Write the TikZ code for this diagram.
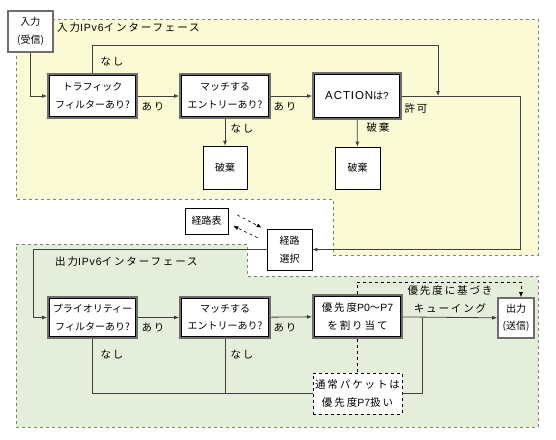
\documentclass[tikz,border=0pt]{standalone}
\usepackage{fontspec}
\setmainfont{Noto Sans CJK JP}
\newfontfamily\lat{Liberation Sans}
\newfontfamily\widejp[LetterSpace=18]{Noto Sans CJK JP}
\newfontfamily\widelat[LetterSpace=8]{Liberation Sans}
\usetikzlibrary{arrows.meta}
\definecolor{yel}{RGB}{250,250,212}
\definecolor{grn}{RGB}{229,238,218}
\definecolor{frame}{RGB}{110,110,110}
\tikzset{
  box/.style={draw=black, line width=0.7pt, fill=white, align=center, inner sep=0pt, font=\fontsize{10}{17.5}\selectfont},
  widebox/.style={font=\widejp\fontsize{10.5}{17.5}\selectfont},
  graybox/.style={box, draw=frame, line width=1.6pt},
  dblbox/.style={box, draw=frame, line width=1.8pt},
  dashbox/.style={box, dashed, line width=0.6pt},
  region/.style={draw=gray, dashed, line width=0.6pt},
  conn/.style={draw=black!75, line width=0.8pt},
  arr/.style={conn, -{Latex[length=5pt,width=4pt]}},
  dasharr/.style={dashed, line width=0.6pt, -{Latex[length=5pt,width=4pt]}},
  lbl/.style={font=\widejp\fontsize{10.5}{17.5}\selectfont, inner sep=0pt},
}
\begin{document}
\begin{tikzpicture}[x=1pt,y=-1pt]
\useasboundingbox (0,0) rectangle (556,439);
% regions
\fill[yel] (16,19) -- (538,19) -- (538,255) -- (333,255) -- (333,199) -- (16,199) -- cycle;
\draw[region] (16,19) -- (538,19) -- (538,255) -- (333,255) -- (333,199) -- (16,199) -- cycle;
\fill[grn] (16,244) -- (247,244) -- (247,276) -- (538,276) -- (538,427) -- (16,427) -- cycle;
\draw[region] (16,244) -- (247,244) -- (247,276) -- (538,276) -- (538,427) -- (16,427) -- cycle;
\node[lbl, anchor=west] (t1) at (57,28) {入力{\widelat IPv6}インターフェース};
\node[lbl, anchor=west] (t2) at (55,262) {出力{\widelat IPv6}インターフェース};

% nodes
\node[graybox, minimum width=45, minimum height=41] (in) at (30.5,31.5) {入力\\(受信)};
\node[dblbox, minimum width=89, minimum height=44] (tf) at (92.5,96) {トラフィック\\フィルターあり?};
\node[dblbox, minimum width=90, minimum height=44] (m1) at (225,96) {マッチする\\エントリーあり?};
\node[dblbox, minimum width=88, minimum height=46] (act) at (357,96) {{\widelat\fontsize{11.5}{14}\selectfont ACTION}は{\lat ?}};
\node[box, minimum width=44, minimum height=43] (d1) at (225,167.5) {破棄};
\node[box, minimum width=45, minimum height=42] (d2) at (357.5,168) {破棄};
\node[box, minimum width=43, minimum height=26] (rt) at (206.5,221) {経路表};
\node[box, minimum width=45, minimum height=41] (rs) at (289.5,249.5) {経路\\選択};
\node[dblbox, minimum width=89, minimum height=41] (pf) at (92.5,317.5) {プライオリティー\\フィルターあり?};
\node[dblbox, minimum width=90, minimum height=41] (m2) at (225,317.5) {マッチする\\エントリーあり?};
\node[dblbox, widebox, minimum width=89, minimum height=43] (as) at (357.5,316.5) {優先度{\lat P0}～{\lat P7}\\を割り当て};
\node[graybox, minimum width=36, minimum height=40] (out) at (516,318) {出力\\(送信)};
\node[dashbox, widebox, minimum width=89, minimum height=41] (np) at (357.5,393.5) {通常パケットは\\優先度{\lat P7}扱い};
\foreach \n in {tf,m1,act,pf,m2,as}
  \draw[black, line width=0.6pt] ([shift={(2.6,2.6)}]\n.north west) rectangle ([shift={(-2.6,-2.6)}]\n.south east);

% coordinates
\coordinate (j1top) at (438,45);
\coordinate (j1) at (438,96);
\coordinate (c1) at (520,96);
\coordinate (c2) at (33,249.5);
\coordinate (c3) at (422,317.5);
\coordinate (c4) at (521,282);

% connectors (upper)
\draw[arr] (in.south) |- (tf.west);
\draw[arr] (tf.north) |- (j1top) -- (j1);
\draw[arr] (tf) -- (m1);
\draw[arr] (m1) -- (act);
\draw[arr] (m1) -- (d1);
\draw[arr] (act) -- (d2);
\draw[arr] (act.east) -- (c1) |- (rs.east);
\draw[arr] (rs.west) -- (c2) |- (pf.west);
\draw[dasharr] ([shift={(9,-6)}]rt.east) -- ([shift={(-5,-1)}]rs.north west);
\draw[dasharr] ([shift={(-9,9)}]rs.north west) -- ([shift={(5,5)}]rt.east);

% connectors (lower)
\draw[arr] (pf) -- (m2);
\draw[arr] (m2) -- (as);
\draw[arr] (as) -- (out);
\draw[conn] (pf.south) |- (np.west);
\draw[conn] (m2.south) -- (m2.south |- np.west);
\draw[conn] (np.east) -| (c3);
\draw[dasharr] (as.north) |- (c4) -- (c4 |- out.north);
\draw[dashed, line width=0.6pt] (as.south) -- (np.north);

% labels
\node[lbl] (l1) at (112,62) {なし};
\node[lbl] (l2) at (153,107) {あり};
\node[lbl] (l3) at (242,129) {なし};
\node[lbl] (l4) at (285,107) {あり};
\node[lbl] (l5) at (378,128) {破棄};
\node[lbl] (l6) at (416,108) {許可};
\node[lbl] (l7) at (153,328) {あり};
\node[lbl] (l8) at (285,328) {あり};
\node[lbl] (l9) at (112,355) {なし};
\node[lbl] (l10) at (242,355) {なし};
\node[lbl, align=center] (l11) at (450,299.5) {優先度に基づき\\キューイング};
\end{tikzpicture}
\end{document}
